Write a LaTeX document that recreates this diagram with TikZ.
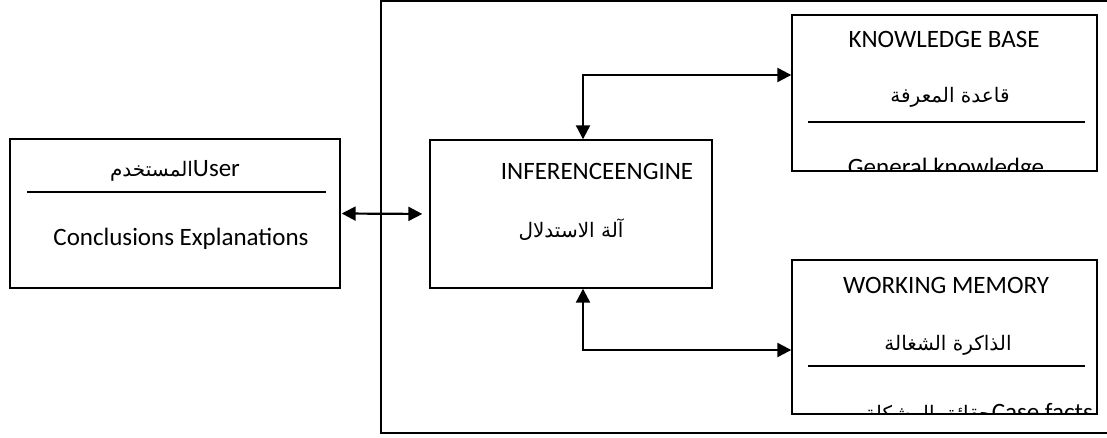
\documentclass[tikz,border=0pt]{standalone}
\usepackage{fontspec}
\setmainfont{Carlito}
\newfontfamily\arabicfont[Script=Arabic,Scale=0.8]{DejaVu Sans}
\TeXXeTstate=1
\usetikzlibrary{positioning,arrows.meta}

\begin{document}
\begin{tikzpicture}[x=1pt,y=-1pt]
    \tikzstyle{every node}=[inner sep=0]
    \tikzstyle{box}=[draw,rectangle,line width=1.4pt]
    \tikzstyle{txt}=[anchor=base,font=\fontsize{25}{29}\selectfont]
    \tikzstyle{sep}=[line width=1.4pt]
    \tikzstyle{link}=[line width=2.2pt,{Triangle[length=14pt,width=14pt]}-{Triangle[length=14pt,width=14pt]}]
    \useasboundingbox (0,0) rectangle (1107,438);
    {
        % frame round the system
        \draw[sep] (1112,1) -- (381,1) -- (381,433) -- (1112,433);

        \node[box,minimum width=330,minimum height=149] (user) at (175,213.5) {};
        \node[box,minimum width=282,minimum height=148] (ie) at (571,214) {};
        \node[box,minimum width=305,minimum height=156] (kb) at (944.5,93) {};
        \node[box,minimum width=305,minimum height=154] (wm) at (944.5,337) {};

        \node[txt] (usert) at (175,177) {{\arabicfont\beginR المستخدم\endR}User};
        \draw[sep] (27,192) -- (326,192);
        \node[txt] (userb) at (181,245) {Conclusions Explanations};

        \node[txt] (iet) at (597,180) {INFERENCEENGINE};
        \node[txt] (iea) at (571,237) {\arabicfont\beginR آلة الاستدلال\endR};

        \node[txt] (kbt) at (944,48) {KNOWLEDGE BASE};
        \node[txt] (kba) at (950,103) {\arabicfont\beginR قاعدة المعرفة\endR};
        \draw[sep] (808,122) -- (1085,122);

        \node[txt] (wmt) at (946,293) {WORKING MEMORY};
        \node[txt] (wma) at (948,350) {\arabicfont\beginR الذاكرة الشغالة\endR};
        \draw[sep] (808,366) -- (1085,366);

        % last lines are cut by the box
        \begin{scope}
            \clip (kb.south west) rectangle (kb.north east);
            \node[txt] (kbb) at (946,176) {General knowledge};
        \end{scope}
        \begin{scope}
            \clip (wm.south west) rectangle (wm.north east);
            \node[txt] (wmb) at (979,420) {{\arabicfont\beginR حقائق المشكلة\endR}Case facts};
        \end{scope}

        \coordinate (tjoin) at (583,75);
        \coordinate (bjoin) at (583,350);
        \draw[link,shorten <=1pt,shorten >=7pt] (user.east) -- (ie.west);
        \draw[link] (kb.west |- tjoin) -- (tjoin) -- (ie.north -| tjoin);
        \draw[link] (ie.south -| bjoin) -- (bjoin) -- (wm.west |- bjoin);
    }
\end{tikzpicture}
\end{document}
